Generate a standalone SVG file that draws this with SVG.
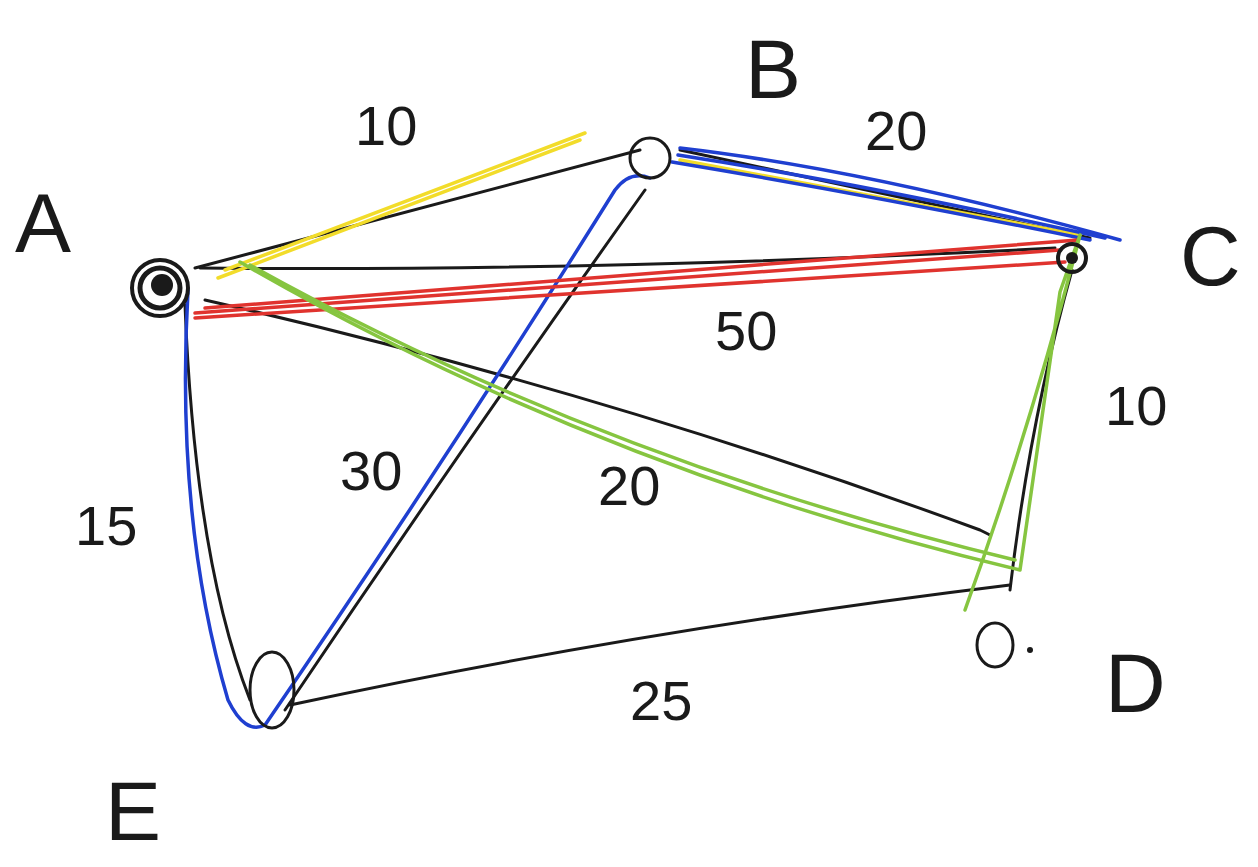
<svg xmlns="http://www.w3.org/2000/svg" width="1258" height="867" viewBox="0 0 1258 867">
<style>
.k{stroke:#1a1a1a;stroke-width:3;fill:none;stroke-linecap:round;stroke-linejoin:round}
.y{stroke:#f2dc2a;stroke-width:3.5;fill:none;stroke-linecap:round}
.b{stroke:#1f3fd0;stroke-width:3.5;fill:none;stroke-linecap:round;stroke-linejoin:round}
.r{stroke:#e0332e;stroke-width:3.5;fill:none;stroke-linecap:round}
.g{stroke:#86c540;stroke-width:3.5;fill:none;stroke-linecap:round;stroke-linejoin:round}
.L{font-family:"Liberation Sans",Arial,sans-serif;fill:#1a1a1a;font-size:84px;font-weight:300}
.n{font-family:"Liberation Sans",Arial,sans-serif;fill:#1a1a1a;font-size:56px;font-weight:300}
</style>
<rect width="1258" height="867" fill="#fff"/>
<g id="connectors">
<path class="k" d="M195 268 L640 150"/>
<path class="k" d="M200 268 Q600 272 1055 248"/>
<path class="k" d="M205 300 Q600 390 980 530 L990 535"/>
<path class="k" d="M185 305 Q195 560 250 700"/>
<path class="k" d="M645 190 Q460 450 285 710"/>
<path class="k" d="M1072 270 Q1030 420 1010 590"/>
<path class="k" d="M290 705 Q640 630 1010 585"/>
<path class="k" d="M680 150 L1090 238"/>
<path class="y" d="M225 270 L585 133"/>
<path class="y" d="M218 278 L580 140"/>
<path class="y" d="M680 160 L1080 235"/>
<path class="b" d="M680 148 Q870 170 1120 240 M678 155 Q870 185 1105 238 M672 162 Q870 195 1090 240"/>
<path class="b" d="M188 290 Q175 520 228 700 Q245 735 265 725 Q440 470 615 190 Q630 170 650 178"/>
<path class="r" d="M195 318 L1065 262 M195 313 L1060 250 M205 308 L1078 240"/>
<path class="g" d="M240 262 Q600 470 1020 570 L1060 292 L1080 235 Q1030 430 965 610 M250 265 Q600 460 1015 560"/>
</g>
<g id="node-A">
<circle cx="160" cy="288" r="28" fill="none" stroke="#1a1a1a" stroke-width="4"/>
<circle cx="160" cy="288" r="20" fill="none" stroke="#1a1a1a" stroke-width="5"/>
<circle cx="162" cy="285" r="11" fill="#1a1a1a"/>
<text class="L" x="15" y="252">A</text>
</g>
<g id="node-B">
<circle cx="650" cy="158" r="20" class="k"/>
<text class="L" x="745" y="98">B</text>
</g>
<g id="node-C">
<circle cx="1072" cy="258" r="14" fill="none" stroke="#1a1a1a" stroke-width="4"/>
<circle cx="1072" cy="258" r="6" fill="#1a1a1a"/>
<text class="L" x="1180" y="285">C</text>
</g>
<g id="node-D">
<ellipse cx="995" cy="645" rx="18" ry="22" class="k"/>
<circle cx="1030" cy="650" r="3" fill="#1a1a1a"/>
<text class="L" x="1105" y="712">D</text>
</g>
<g id="node-E">
<ellipse cx="272" cy="690" rx="22" ry="38" class="k"/>
<text class="L" x="105" y="840">E</text>
</g>
<g id="labels">
<text class="n" x="355" y="145">10</text>
<text class="n" x="865" y="150">20</text>
<text class="n" x="715" y="350">50</text>
<text class="n" x="1105" y="425">10</text>
<text class="n" x="340" y="490">30</text>
<text class="n" x="598" y="505">20</text>
<text class="n" x="75" y="545">15</text>
<text class="n" x="630" y="720">25</text>
</g>
</svg>
